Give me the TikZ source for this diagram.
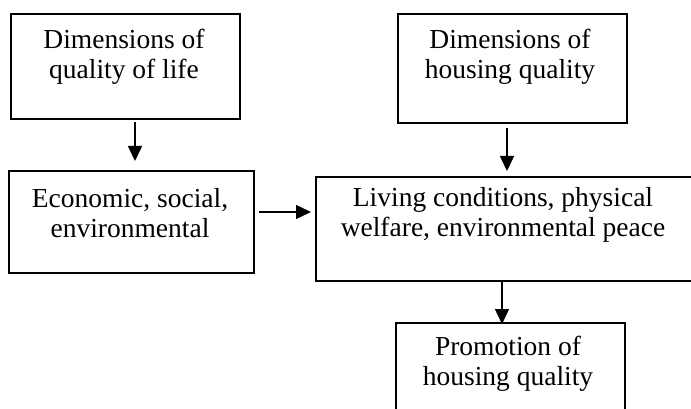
\documentclass[tikz,border=0pt]{standalone}
\usepackage{fontspec}
\setmainfont{Liberation Serif}
\usetikzlibrary{arrows.meta}
\begin{document}
\begin{tikzpicture}[x=1pt,y=-1pt,
  box/.style={draw=black, line width=1.6pt, rectangle, inner sep=0pt, anchor=north west},
  txt/.style={align=center, font=\fontsize{27.5}{30}\selectfont, inner sep=0pt},
  arr/.style={line width=1.5pt, -{Triangle[length=15pt,width=14pt]}}]
\useasboundingbox (0,0) rectangle (691,409);
\clip (0,0) rectangle (691,409);
% boxes
\node[box, minimum width=229pt, minimum height=105pt] (b1) at (10,13) {};
\node[box, minimum width=245pt, minimum height=102pt] (b2) at (8,170) {};
\node[box, minimum width=378pt, minimum height=104pt] (b3) at (315,176) {};
\node[box, minimum width=229pt, minimum height=109pt] (b4) at (397,13) {};
\node[box, minimum width=229pt, minimum height=95pt] (b5) at (395,322) {};
% texts
\node[txt] (t1) at (124,57) {Dimensions of\\quality of life};
\node[txt] (t2) at (130,213) {Economic, social,\\environmental};
\node[txt] (t3) at (503,215) {Living conditions, physical\\welfare, environmental peace};
\node[txt] (t4) at (510,57) {Dimensions of\\housing quality};
\node[txt] (t5) at (508,364) {Promotion of\\housing quality};
% connector end points
\coordinate (a1s) at (135,122);
\coordinate (a1e) at (135,161);
\coordinate (a2s) at (259,212);
\coordinate (a2e) at (311,212);
\coordinate (a3s) at (507,128);
\coordinate (a3e) at (507,171);
\coordinate (a4s) at (502,280);
\coordinate (a4e) at (502,324);
\draw[arr] (a1s) -- (a1e);
\draw[arr] (a2s) -- (a2e);
\draw[arr] (a3s) -- (a3e);
\draw[arr] (a4s) -- (a4e);
\end{tikzpicture}
\end{document}
